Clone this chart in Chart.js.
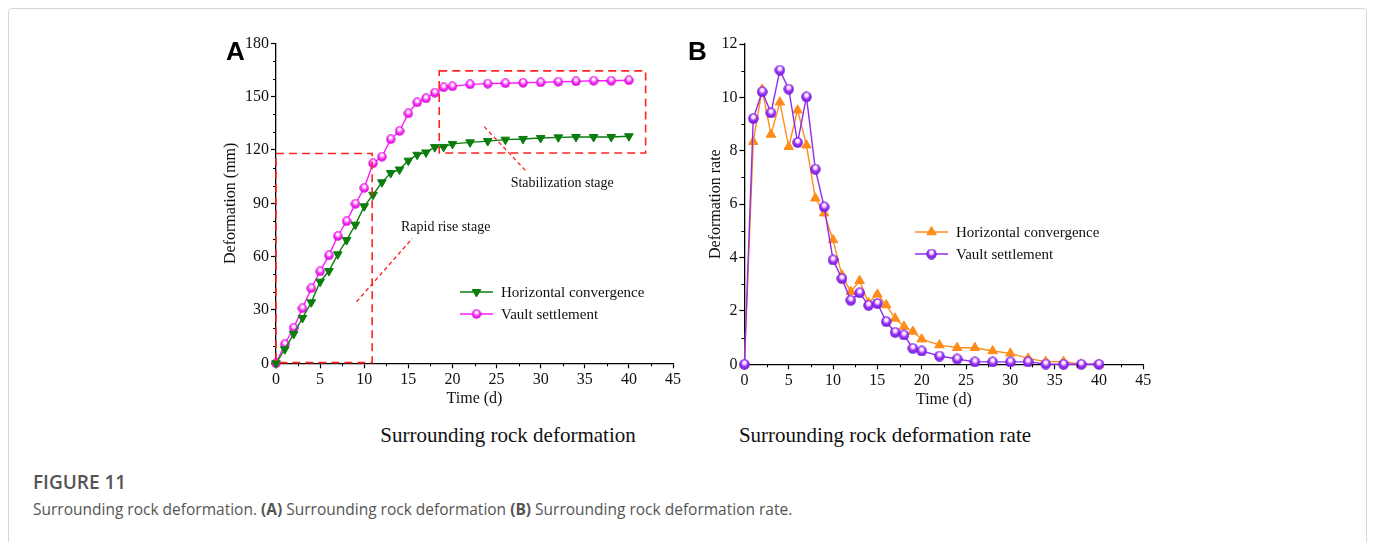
<!DOCTYPE html>
<html>
<head>
<meta charset="utf-8">
<script src="https://cdn.jsdelivr.net/npm/chart.js"></script>
<style>
  body { margin: 0; background: #fff; width: 1373px; height: 542px; overflow: hidden; position: relative; }
  .frame { position: absolute; left: 8px; top: 8px; width: 1357px; height: 600px; border: 1px solid #d6d6d6; border-radius: 4px; }
  canvas { position: absolute; }
  #chartA { left: 190px; top: 20px; }
  #chartB { left: 690px; top: 20px; }
  .panel { position: absolute; top: 36px; font: bold 26px "Liberation Sans", Arial, sans-serif; color: #000; }
  .sub { position: absolute; top: 423px; font: 21px "Liberation Serif", "Times New Roman", serif; transform: translateX(-50%); white-space: nowrap; color: #111; }
  .fig { position: absolute; left: 33px; top: 469px; font: 600 19px "Open Sans", sans-serif; color: #555; }
  .cap { position: absolute; left: 33px; top: 498px; font: 15.5px "Open Sans", sans-serif; color: #555; white-space: nowrap; }
</style>
</head>
<body>
<div class="frame"></div>
<canvas id="chartA" width="500" height="400"></canvas>
<canvas id="chartB" width="470" height="400"></canvas>
<div class="panel" style="left:226px">A</div>
<div class="panel" style="left:688px">B</div>
<div class="sub" style="left:508px">Surrounding rock deformation</div>
<div class="sub" style="left:885px">Surrounding rock deformation rate</div>
<div class="fig">FIGURE 11</div>
<div class="cap">Surrounding rock deformation. <b>(A)</b> Surrounding rock deformation <b>(B)</b> Surrounding rock deformation rate.</div>

<script>
// monitoring days
const days = [0,1,2,3,4,5,6,7,8,9,10,11,12,13,14,15,16,17,18,19,20,22,24,26,28,30,32,34,36,38,40];

// (A) accumulated deformation, mm
const horizontalA = [0,7.9,16.5,25.5,34.3,45.9,51.9,61.3,69.3,78.0,88.3,94.8,101.8,107.0,109.0,114.0,117.3,118.6,121.6,121.7,123.4,124.3,125.0,125.8,126.2,126.7,127.1,127.3,127.3,127.3,127.7];
const vaultA = [0,10.7,19.9,30.9,42.2,51.7,60.7,71.6,79.9,89.7,98.6,112.5,116.2,126.0,130.7,140.6,146.8,149.0,152.2,155.2,155.8,156.9,157.3,157.5,157.8,158.0,158.4,158.6,158.9,158.9,159.2];

// (B) deformation rate
const horizontalB = [0,8.34,10.3,8.61,9.82,8.15,9.52,8.21,6.22,5.66,4.66,3.34,2.72,3.13,2.3,2.62,2.22,1.72,1.42,1.23,0.94,0.72,0.62,0.62,0.5,0.41,0.22,0.1,0.1,0,0];
const vaultB = [0,9.21,10.21,9.42,11.02,10.31,8.31,10.02,7.31,5.9,3.91,3.21,2.4,2.68,2.21,2.28,1.6,1.2,1.1,0.6,0.5,0.31,0.2,0.09,0.09,0.09,0.09,0.01,0,0,0];

const xTicks = [0,5,10,15,20,25,30,35,40,45];
const yTicksA = [0,30,60,90,120,150,180];
const yTicksB = [0,2,4,6,8,10,12];

const seriesNames = ["Horizontal convergence", "Vault settlement"];

// stage marks on panel A, in data units
const rapidBox = { x0: 0, x1: 10.9, y0: 0.4, y1: 118 };
const stableBox = { x0: 18.5, x1: 41.9, y0: 118.3, y1: 164.5 };

const SERIF = '"Liberation Serif", "Times New Roman", serif';

function pairs(ys) {
  return days.map((d, i) => ({ x: d, y: ys[i] }));
}

// shaded ball marker
function ball(color, dark, size) {
  const c = document.createElement("canvas");
  c.width = c.height = size;
  const g = c.getContext("2d");
  const r = size / 2;
  const grad = g.createRadialGradient(r, r * 0.55, r * 0.05, r, r, r);
  grad.addColorStop(0, "#ffffff");
  grad.addColorStop(0.3, "#ffd6ff");
  grad.addColorStop(0.55, color);
  grad.addColorStop(1, dark);
  g.fillStyle = grad;
  g.beginPath();
  g.arc(r, r, r - 0.3, 0, Math.PI * 2);
  g.fill();
  return c;
}

function toPairs(list) {
  return list.map(v => ({ value: v }));
}

function scales(yTicks, yMax, yTitle, yWidth) {
  const common = {
    type: "linear",
    grid: { drawOnChartArea: false, tickLength: 5, tickColor: "#000", tickWidth: 1.2 },
    border: { color: "#000", width: 1.3 },
    ticks: { font: { family: SERIF, size: 16 }, color: "#111", padding: 2, maxRotation: 0, autoSkip: false }
  };
  return {
    x: {
      ...common,
      min: 0, max: 45,
      afterBuildTicks: s => { s.ticks = toPairs(xTicks); },
      afterFit: s => { s.height = 48.7; },
      title: { display: true, text: "Time (d)", color: "#111", font: { family: SERIF, size: 16 }, padding: { top: 4, bottom: 4 } }
    },
    y: {
      ...common,
      min: 0, max: yMax,
      afterBuildTicks: s => { s.ticks = toPairs(yTicks); },
      afterFit: s => { s.width = yWidth; },
      title: { display: true, text: yTitle, color: "#111", font: { family: SERIF, size: 16 }, padding: { top: 4, bottom: 4 } }
    }
  };
}

// minor ticks, stage boxes, notes and legend
const decor = {
  id: "decor",
  afterDraw(chart, args, o) {
    const ctx = chart.ctx;
    const xs = chart.scales.x, ys = chart.scales.y;
    const area = chart.chartArea;
    ctx.save();

    ctx.strokeStyle = "#000";
    ctx.lineWidth = 1;
    for (let i = 0; xs.min + i * o.xMinor <= xs.max; i++) {
      const v = xs.min + i * o.xMinor;
      if (xTicks.includes(v)) continue;
      const p = Math.round(xs.getPixelForValue(v)) + 0.5;
      ctx.beginPath(); ctx.moveTo(p, area.bottom); ctx.lineTo(p, area.bottom + 3); ctx.stroke();
    }
    for (let i = 0; ys.min + i * o.yMinor <= ys.max; i++) {
      const v = ys.min + i * o.yMinor;
      if (o.yTicks.includes(v)) continue;
      const p = Math.round(ys.getPixelForValue(v)) + 0.5;
      ctx.beginPath(); ctx.moveTo(area.left, p); ctx.lineTo(area.left - 3, p); ctx.stroke();
    }

    ctx.strokeStyle = "#ff2424";
    (o.boxes || []).forEach(b => {
      ctx.lineWidth = 1.6;
      ctx.setLineDash([8, 5]);
      const l = xs.getPixelForValue(b.x0), r = xs.getPixelForValue(b.x1);
      const t = ys.getPixelForValue(b.y1), btm = ys.getPixelForValue(b.y0);
      ctx.strokeRect(l, t, r - l, btm - t);
    });
    (o.pointers || []).forEach(p => {
      ctx.lineWidth = 1.3;
      ctx.setLineDash([4, 3]);
      ctx.beginPath();
      ctx.moveTo(xs.getPixelForValue(p[0]), ys.getPixelForValue(p[1]));
      ctx.lineTo(xs.getPixelForValue(p[2]), ys.getPixelForValue(p[3]));
      ctx.stroke();
    });
    ctx.setLineDash([]);

    ctx.fillStyle = "#111";
    ctx.font = "14px " + SERIF;
    ctx.textBaseline = "middle";
    (o.notes || []).forEach(n => {
      ctx.fillText(n.text, xs.getPixelForValue(n.x), ys.getPixelForValue(n.y));
    });

    // legend
    const lg = o.legend;
    ctx.font = "15px " + SERIF;
    o.order.forEach((di, k) => {
      const ds = chart.data.datasets[di];
      const y = lg.y + k * 22;
      ctx.strokeStyle = ds.borderColor;
      ctx.lineWidth = 1.5;
      ctx.beginPath(); ctx.moveTo(lg.x, y); ctx.lineTo(lg.x + 33, y); ctx.stroke();
      ctx.fillStyle = ds.pointBackgroundColor;
      ctx.lineWidth = 1;
      Chart.helpers.drawPoint(ctx, { pointStyle: ds.pointStyle, rotation: ds.pointRotation || 0, radius: ds.pointRadius, borderWidth: 1 }, lg.x + 16.5, y);
      ctx.fillStyle = "#111";
      ctx.fillText(seriesNames[k], lg.x + 41, y + 1);
    });
    ctx.restore();
  }
};

const green = "#0b7d0b";
const magenta = "#ff1aff";
const orange = "#ff8c1a";
const purple = "#8f2cf0";

new Chart(document.getElementById("chartA"), {
  type: "line",
  data: {
    datasets: [
      {
        label: seriesNames[0], data: pairs(horizontalA),
        borderColor: green, backgroundColor: green, pointBackgroundColor: green, pointBorderColor: green,
        borderWidth: 1.4, pointStyle: "triangle", pointRotation: 180, pointRadius: 5, pointBorderWidth: 1,
        clip: false, order: 0
      },
      {
        label: seriesNames[1], data: pairs(vaultA),
        borderColor: magenta, backgroundColor: magenta, pointBackgroundColor: magenta,
        borderWidth: 1.4, pointStyle: ball("#ff33ff", "#c400c4", 10), pointRadius: 5,
        clip: false, order: 1
      }
    ]
  },
  options: {
    responsive: false, animation: false, events: [],
    layout: { padding: { left: 27.4, right: 17, top: 23.3, bottom: 8 } },
    plugins: {
      legend: { display: false }, tooltip: { enabled: false },
      decor: {
        xMinor: 2.5, yMinor: 10, yTicks: yTicksA,
        boxes: [rapidBox, stableBox],
        pointers: [[9.13, 34.6, 15.46, 70.3], [23.6, 133.1, 28.4, 107.8]],
        notes: [{ text: "Rapid rise stage", x: 14.17, y: 76.7 }, { text: "Stabilization stage", x: 26.6, y: 101.2 }],
        legend: { x: 270, y: 272 }, order: [0, 1]
      }
    },
    scales: scales(yTicksA, 180, "Deformation (mm)", 58.6)
  },
  plugins: [decor]
});

new Chart(document.getElementById("chartB"), {
  type: "line",
  data: {
    datasets: [
      {
        label: seriesNames[0], data: pairs(horizontalB),
        borderColor: orange, backgroundColor: orange, pointBackgroundColor: orange, pointBorderColor: orange,
        borderWidth: 1.4, pointStyle: "triangle", pointRadius: 5.5, pointBorderWidth: 1,
        clip: false, order: 1
      },
      {
        label: seriesNames[1], data: pairs(vaultB),
        borderColor: purple, backgroundColor: purple, pointBackgroundColor: purple,
        borderWidth: 1.4, pointStyle: ball("#9b3cff", "#6a0fc8", 11), pointRadius: 5.5,
        clip: false, order: 0
      }
    ]
  },
  options: {
    responsive: false, animation: false, events: [],
    layout: { padding: { left: 12.4, right: 16.7, top: 24, bottom: 7 } },
    plugins: {
      legend: { display: false }, tooltip: { enabled: false },
      decor: { xMinor: 2.5, yMinor: 1, yTicks: yTicksB, legend: { x: 225, y: 212 }, order: [0, 1] }
    },
    scales: scales(yTicksB, 12, "Deformation rate", 42)
  },
  plugins: [decor]
});
</script>
</body>
</html>
